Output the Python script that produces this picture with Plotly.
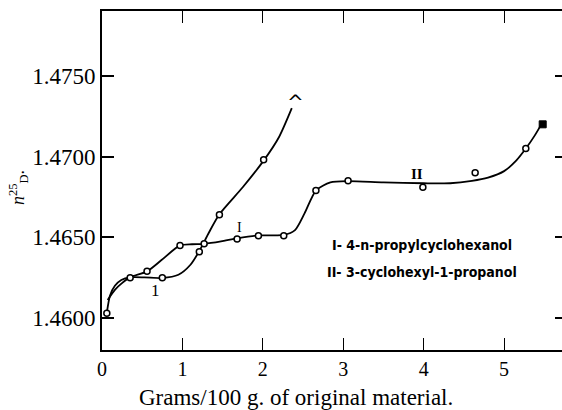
import plotly.graph_objects as go

# Smoothed curve A (steep curve)
curve_a_x = [0.06, 0.10, 0.16, 0.24, 0.35, 0.53, 0.75, 0.95, 1.10, 1.21, 1.33, 1.46, 1.75, 2.01, 2.20, 2.36]
curve_a_y = [1.46033, 1.46140, 1.46200, 1.46236, 1.46252, 1.46252, 1.46248, 1.46268, 1.46330, 1.46415, 1.4653, 1.46643, 1.4681, 1.46975, 1.4712, 1.4730]
# Observed points on curve A
pts_a_x = [0.06, 0.35, 0.75, 1.21, 1.46, 2.01]
pts_a_y = [1.4603, 1.4625, 1.4625, 1.4641, 1.4664, 1.4698]

# Smoothed curve B
curve_b_x = [0.07, 0.16, 0.245, 0.35, 0.56, 0.74, 0.97, 1.12, 1.27, 1.48, 1.68, 1.945, 2.26, 2.40, 2.52, 2.66, 2.84, 3.06, 3.5, 4.0, 4.33, 4.6, 4.8, 5.0, 5.15, 5.27, 5.38, 5.47]
curve_b_y = [1.46112, 1.46175, 1.46215, 1.46252, 1.46289, 1.46359, 1.46450, 1.46457, 1.46460, 1.46475, 1.46494, 1.46512, 1.46515, 1.46545, 1.4665, 1.4679, 1.46840, 1.46848, 1.46840, 1.46835, 1.46835, 1.46850, 1.46870, 1.46910, 1.46975, 1.47050, 1.47130, 1.47206]
# Observed points on curve B
pts_b_x = [0.56, 0.97, 1.27, 1.68, 1.945, 2.26, 2.66, 3.06, 3.99, 4.64, 5.27]
pts_b_y = [1.4629, 1.4645, 1.4646, 1.4649, 1.4651, 1.4651, 1.4679, 1.4685, 1.4681, 1.4690, 1.4705]

x_ticks = [0, 1, 2, 3, 4, 5]
y_ticks = [1.4600, 1.4650, 1.4700, 1.4750]
y_tick_text = ["1.4600", "1.4650", "1.4700", "1.4750"]
x_range = [0, 5.72]
y_range = [1.45802, 1.47902]

serif = "Liberation Serif"

fig = go.Figure()
line_style = dict(color="black", width=1.8, shape="spline", smoothing=0.7)
fig.add_trace(go.Scatter(x=curve_a_x, y=curve_a_y, mode="lines", line=line_style, hoverinfo="skip"))
fig.add_trace(go.Scatter(x=curve_b_x, y=curve_b_y, mode="lines", line=line_style, hoverinfo="skip"))
mk = dict(symbol="circle", size=6, color="white", line=dict(color="black", width=1.5))
fig.add_trace(go.Scatter(x=pts_a_x, y=pts_a_y, mode="markers", marker=mk))
fig.add_trace(go.Scatter(x=pts_b_x, y=pts_b_y, mode="markers", marker=mk))
# end marker of curve B
fig.add_trace(go.Scatter(x=[5.48], y=[1.4720], mode="markers",
                         marker=dict(symbol="square", size=7, color="black", line=dict(color="black", width=1))))

# secondary axes for top / right ticks
fig.add_trace(go.Scatter(x=[None], y=[None], xaxis="x2", yaxis="y2", showlegend=False))

fig.update_layout(
    width=562, height=410,
    margin=dict(l=102, r=0, t=11, b=60),
    paper_bgcolor="white", plot_bgcolor="white",
    showlegend=False,
    font=dict(family=serif, color="black", size=21),
    xaxis=dict(range=x_range, tickvals=x_ticks, ticks="inside", ticklen=12, tickwidth=1.2,
               tickcolor="black", showline=True, linecolor="black", linewidth=2,
               showgrid=False, zeroline=False, tickfont=dict(size=20, family=serif)),
    yaxis=dict(range=y_range, tickvals=y_ticks, ticktext=y_tick_text, ticks="inside", ticklen=12, tickwidth=1.5,
               tickcolor="black", showline=True, linecolor="black", linewidth=2,
               showgrid=False, zeroline=False, tickfont=dict(size=23, family=serif),
               ticklabelstandoff=0),
    xaxis2=dict(range=x_range, overlaying="x", side="top", tickvals=[1, 2, 3, 4, 5], ticks="inside",
                ticklen=12, tickwidth=1.2, tickcolor="black", showline=True, linecolor="black",
                linewidth=2, showticklabels=False, showgrid=False, zeroline=False),
    yaxis2=dict(range=y_range, overlaying="y", side="right", tickvals=y_ticks, ticks="inside",
                ticklen=7, tickwidth=1.5, tickcolor="black", showline=False,
                showticklabels=False, showgrid=False, zeroline=False),
)

fig.add_annotation(text="Grams/100 g. of original material.", xref="paper", yref="paper",
                   x=0.422, y=-0.139, showarrow=False, xanchor="center", yanchor="middle",
                   font=dict(size=23, family=serif))
fig.add_annotation(text="<i>n</i><sup>25</sup><sub>D</sub>.", xref="paper", yref="paper",
                   x=-0.183, y=0.48, textangle=-90, showarrow=False,
                   font=dict(size=18, family=serif), xanchor="center", yanchor="middle")

fig.add_annotation(text="^", x=2.40, y=1.4734, showarrow=False,
                   font=dict(size=20, family="DejaVu Sans", color="black"), yanchor="middle")
fig.add_annotation(text="1", x=0.67, y=1.46173, showarrow=False,
                   font=dict(size=17, family=serif, color="black"))
fig.add_annotation(text="I", x=1.71, y=1.4656, showarrow=False,
                   font=dict(size=14, family=serif, color="black"))
fig.add_annotation(text="<b>II</b>", x=3.92, y=1.4689, showarrow=False,
                   font=dict(size=15, family=serif, color="black"))
sans_b = "DejaVu Sans Condensed"
fig.add_annotation(text="<b>I- 4-n-propylcyclohexanol</b>", x=3.98, y=1.46452, showarrow=False,
                   font=dict(size=14, family=sans_b, color="black"))
fig.add_annotation(text="<b>II- 3-cyclohexyl-1-propanol</b>", x=3.98, y=1.46285, showarrow=False,
                   font=dict(size=14, family=sans_b, color="black"))

fig.write_html("out.html", config={"displayModeBar": False},
               post_script="document.body.style.margin='0';document.body.style.padding='0';")
